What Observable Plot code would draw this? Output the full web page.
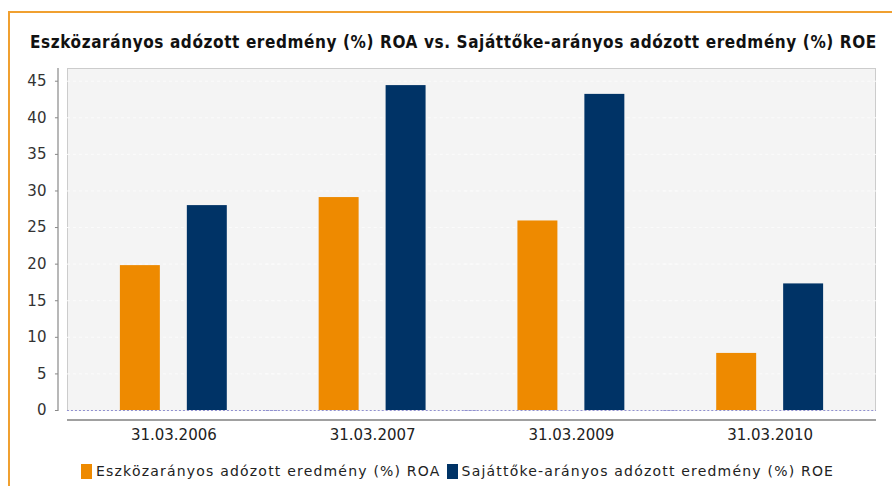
<!DOCTYPE html>
<html>
<head>
<meta charset="utf-8">
<script src="https://cdn.jsdelivr.net/npm/d3@7"></script>
<script src="https://cdn.jsdelivr.net/npm/@observablehq/plot@0.6"></script>
<style>
  html, body { margin: 0; padding: 0; background: #fff; width: 892px; height: 486px; overflow: hidden; }
  #frame { position: absolute; left: 8px; top: 11px; width: 900px; height: 500px;
           border-top: 2px solid #F0A030; border-left: 2px solid #F0A030; }
  #title { position: absolute; left: 30px; top: 32px; font-family: "DejaVu Sans Condensed", "DejaVu Sans"; font-stretch: condensed;
           font-weight: bold; font-size: 17px; letter-spacing: 0.6px; color: #111; white-space: nowrap; }
  #bg { position: absolute; left: 67px; top: 68px; width: 807px; height: 342px; background: #f4f4f4;
        border: 1px solid #cccccc; border-bottom: none; }
  #xline { position: absolute; left: 67px; top: 419px; width: 809px; height: 2px; background: #a0a0a0; }
  #yline { position: absolute; left: 57px; top: 68px; width: 2px; height: 343px; background: #b8b8b8; }
  #chart { position: absolute; left: 0; top: 60px; }
  #legend { position: absolute; left: 81px; top: 463px; font-family: "DejaVu Sans"; font-size: 14px; letter-spacing: 1.2px;
            color: #222; white-space: nowrap; display: flex; align-items: center; }
  .sw { display: inline-block; width: 11px; height: 15px; margin-right: 4px; }
  .item { display: inline-flex; align-items: center; margin-right: 6px; }
</style>
</head>
<body>
<div id="frame"></div>
<div id="title">Eszközarányos adózott eredmény (%) ROA vs. Sajáttőke-arányos adózott eredmény (%) ROE</div>
<div id="bg"></div>
<div id="yline"></div>
<div id="xline"></div>
<div id="chart"></div>
<div id="legend"></div>
<script>
const dates = ["31.03.2006", "31.03.2007", "31.03.2009", "31.03.2010"];
const seriesNames = ["Eszközarányos adózott eredmény (%) ROA", "Sajáttőke-arányos adózott eredmény (%) ROE"];
const roa = [19.8, 29.1, 25.9, 7.8];
const roe = [28.0, 44.4, 43.2, 17.3];
const yTicks = [0, 5, 10, 15, 20, 25, 30, 35, 40, 45];
const colors = ["#EE8A00", "#003366"];

const data = dates.flatMap((d, i) => [
  {date: d, series: seriesNames[0], value: roa[i]},
  {date: d, series: seriesNames[1], value: roe[i]}
]);

const chart = Plot.plot({
  width: 892,
  height: 395,
  marginLeft: 67,
  marginRight: 16,
  marginTop: 9,
  marginBottom: 45,
  style: {background: "transparent", fontFamily: "DejaVu Sans"},
  fx: {domain: dates, paddingInner: 0, paddingOuter: 0.035, round: false, axis: null},
  x: {domain: seriesNames, paddingInner: 0.403, paddingOuter: 0.686, round: false, axis: null},
  y: {domain: [0, 46.6], axis: null},
  color: {domain: seriesNames, range: colors},
  marks: [
    Plot.ruleY(yTicks.slice(1), {stroke: "#fbfbfb", strokeWidth: 1, strokeDasharray: "3,3", insetLeft: -7, insetRight: -7}),
    Plot.barY(data, {fx: "date", x: "series", y: "value", fill: "series"}),
    Plot.ruleY([0], {stroke: "#9090d0", strokeDasharray: "2,2", insetLeft: -7, insetRight: -7}),
    Plot.axisY(yTicks, {anchor: "left", tickSize: 3, tickPadding: 9, dx: -16, fontSize: 15, fill: "#333", stroke: "#888", label: null}),
    Plot.axisFx({anchor: "bottom", tickSize: 0, tickPadding: 19, fontSize: 15, fill: "#222", label: null, style: {letterSpacing: "1.3px"}})
  ]
});
document.getElementById("chart").appendChild(chart);

const legend = document.getElementById("legend");
seriesNames.forEach((s, i) => {
  const item = document.createElement("span");
  item.className = "item";
  const sw = document.createElement("span");
  sw.className = "sw";
  sw.style.background = colors[i];
  item.appendChild(sw);
  item.appendChild(document.createTextNode(s));
  legend.appendChild(item);
});
</script>
</body>
</html>
